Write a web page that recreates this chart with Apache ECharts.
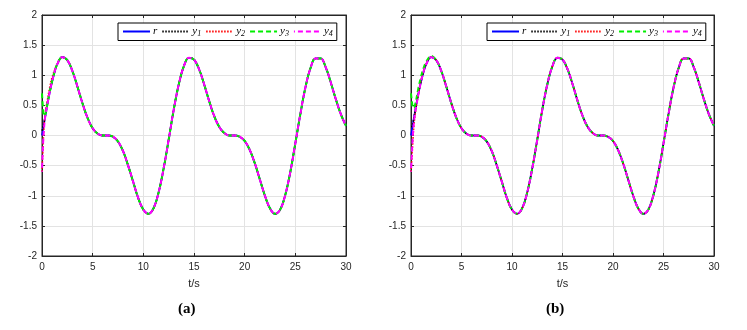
<!DOCTYPE html>
<html>
<head>
<meta charset="utf-8">
<script src="https://cdn.jsdelivr.net/npm/echarts@6.0.0/dist/echarts.min.js"></script>
<style>
  html, body { margin: 0; padding: 0; background: #fff; }
  #chart { width: 747px; height: 330px; }
</style>
</head>
<body>
<div id="chart"></div>
<script>
// time samples (s), finer at the start where the outputs converge
var tData = [0, 0.1, 0.2, 0.3, 0.4, 0.5, 0.75, 1, 1.25, 1.5,
  2, 2.5, 3, 3.5, 4, 4.5, 5, 5.5, 6, 6.5, 7, 7.5, 8, 8.5, 9, 9.5,
  10, 10.5, 11, 11.5, 12, 12.5, 13, 13.5, 14, 14.5, 15, 15.5, 16, 16.5,
  17, 17.5, 18, 18.5, 19, 19.5, 20, 20.5, 21, 21.5, 22, 22.5, 23, 23.5,
  24, 24.5, 25, 25.5, 26, 26.5, 27, 27.5, 28, 28.5, 29, 29.5, 30];

// reference r
var rData = [0, 0.10, 0.20, 0.30, 0.39, 0.49, 0.71, 0.90, 1.06, 1.18,
  1.30, 1.25, 1.07, 0.81, 0.53, 0.29, 0.12, 0.03, 0.00, 0.00, -0.02, -0.10, -0.26, -0.50, -0.77, -1.04,
  -1.23, -1.30, -1.21, -0.95, -0.55, -0.07, 0.43, 0.85, 1.15, 1.29, 1.26, 1.10, 0.85, 0.57,
  0.32, 0.14, 0.04, 0.00, 0.00, -0.02, -0.09, -0.24, -0.46, -0.73, -1.00, -1.21, -1.30, -1.23,
  -0.99, -0.61, -0.13, 0.36, 0.80, 1.12, 1.28, 1.28, 1.13, 0.88, 0.60, 0.35, 0.16];

// start of each output before it joins r (rest follows r)
var y1HeadA = [0.08, 0.14, 0.21, 0.30];
var y2HeadA = [-0.60, -0.20, 0.15, 0.35, 0.47, 0.56, 0.79, 0.97, 1.09, 1.19];
var y3HeadA = [0.70, 0.45, 0.32, 0.34, 0.40, 0.49];
var y4HeadA = [-0.60, -0.15, 0.12, 0.29, 0.39, 0.49];

var y1HeadB = [0.15, 0.15, 0.22, 0.31, 0.40, 0.49, 0.71];
var y2HeadB = [-0.60, -0.35, -0.05, 0.18, 0.33, 0.45, 0.70, 0.92, 1.08, 1.19];
var y3HeadB = [0.70, 0.55, 0.46, 0.46, 0.51, 0.58, 0.80, 0.98, 1.12, 1.22, 1.32];
var y4HeadB = [-0.60, -0.25, 0.05, 0.24, 0.37, 0.47, 0.70, 0.90];

function pairs(vals) {
  return tData.map(function (t, i) { return [t, vals[i]]; });
}
function withHead(head) {
  return head.concat(rData.slice(head.length));
}

var fontFam = '"Liberation Sans", Arial, sans-serif';
var axisColor = '#262626';

var grids = [
  { left: 42, top: 15, width: 304, height: 241 },
  { left: 411, top: 15, width: 303, height: 241 }
];

var xAxes = [], yAxes = [];
grids.forEach(function (g, gi) {
  xAxes.push({
    type: 'value', gridIndex: gi, min: 0, max: 30, interval: 5,
    name: 't/s', nameLocation: 'middle', nameGap: 22,
    nameTextStyle: { fontFamily: fontFam, fontSize: 11, color: axisColor },
    axisLine: { onZero: false, lineStyle: { color: axisColor } },
    axisTick: { inside: true, length: 3, lineStyle: { color: axisColor } },
    axisLabel: { fontFamily: fontFam, fontSize: 10, color: axisColor, margin: 6 },
    splitLine: { show: true, lineStyle: { color: '#e3e3e3' } }
  });
  xAxes.push({
    type: 'value', gridIndex: gi, position: 'top', min: 0, max: 30, interval: 5,
    axisLine: { onZero: false, lineStyle: { color: axisColor } },
    axisTick: { inside: true, length: 3, lineStyle: { color: axisColor } },
    axisLabel: { show: false }, splitLine: { show: false }
  });
  yAxes.push({
    type: 'value', gridIndex: gi, min: -2, max: 2, interval: 0.5,
    axisLine: { show: true, onZero: false, lineStyle: { color: axisColor } },
    axisTick: { show: true, inside: true, length: 3, lineStyle: { color: axisColor } },
    axisLabel: { fontFamily: fontFam, fontSize: 10, color: axisColor, margin: 5 },
    splitLine: { show: true, lineStyle: { color: '#e3e3e3' } }
  });
  yAxes.push({
    type: 'value', gridIndex: gi, position: 'right', min: -2, max: 2, interval: 0.5,
    axisLine: { show: true, onZero: false, lineStyle: { color: axisColor } },
    axisTick: { show: true, inside: true, length: 3, lineStyle: { color: axisColor } },
    axisLabel: { show: false }, splitLine: { show: false }
  });
});

var styles = [
  { name: 'r', color: '#0000ff', type: 'solid', width: 1.8 },
  { name: 'y1', color: '#000000', type: [1.5, 1.5], width: 1.5 },
  { name: 'y2', color: '#ff0000', type: [1.5, 1.5], width: 1.5 },
  { name: 'y3', color: '#00ee00', type: [5, 3], width: 2 },
  { name: 'y4', color: '#ff00ff', type: [5, 3], width: 2, offset: 4 }
];

var dataA = [rData, withHead(y1HeadA), withHead(y2HeadA), withHead(y3HeadA), withHead(y4HeadA)];
var dataB = [rData, withHead(y1HeadB), withHead(y2HeadB), withHead(y3HeadB), withHead(y4HeadB)];

var series = [];
[dataA, dataB].forEach(function (set, gi) {
  set.forEach(function (vals, k) {
    var s = styles[k];
    series.push({
      name: s.name, type: 'line', xAxisIndex: gi * 2, yAxisIndex: gi * 2,
      data: pairs(vals), smooth: 0.4, showSymbol: false, symbol: 'none',
      lineStyle: { color: s.color, width: s.width, type: s.type, dashOffset: s.offset || 0 },
      itemStyle: { color: s.color },
      animation: false
    });
  });
});

var legendRich = {
  i: { fontFamily: '"Liberation Serif", "DejaVu Serif", serif', fontStyle: 'italic', fontSize: 11, color: '#000' },
  s: { fontFamily: '"Liberation Serif", "DejaVu Serif", serif', fontStyle: 'italic', fontSize: 8, color: '#000', verticalAlign: 'bottom', padding: [4, 0, 0, 0] }
};
function legendFmt(name) {
  if (name === 'r') return '{i|r}';
  return '{i|y}{s|' + name.slice(1) + '}';
}
var legends = [118, 487].map(function (x) {
  return {
    left: x, top: 23, orient: 'horizontal',
    data: ['r', 'y1', 'y2', 'y3', 'y4'],
    itemWidth: 27, itemHeight: 8, itemGap: 4,
    padding: [3, 4, 3, 4],
    borderColor: '#000', borderWidth: 1, backgroundColor: '#fff',
    selectedMode: false,
    formatter: legendFmt,
    itemStyle: { opacity: 0 },
    textStyle: { rich: legendRich, padding: [0, 0, 0, -2] }
  };
});

var chart = echarts.init(document.getElementById('chart'), null, { renderer: 'canvas' });
chart.setOption({
  animation: false,
  backgroundColor: '#fff',
  grid: grids.map(function (g) {
    return Object.assign({ show: true, borderColor: axisColor, borderWidth: 1, backgroundColor: 'transparent' }, g);
  }),
  xAxis: xAxes,
  yAxis: yAxes,
  legend: legends,
  series: series,
  graphic: [
    { type: 'text', left: 178, top: 302, style: { text: '(a)', font: 'bold 15px "Liberation Serif", "DejaVu Serif", serif', fill: '#000' } },
    { type: 'text', left: 546, top: 302, style: { text: '(b)', font: 'bold 15px "Liberation Serif", "DejaVu Serif", serif', fill: '#000' } }
  ]
});
</script>
</body>
</html>
